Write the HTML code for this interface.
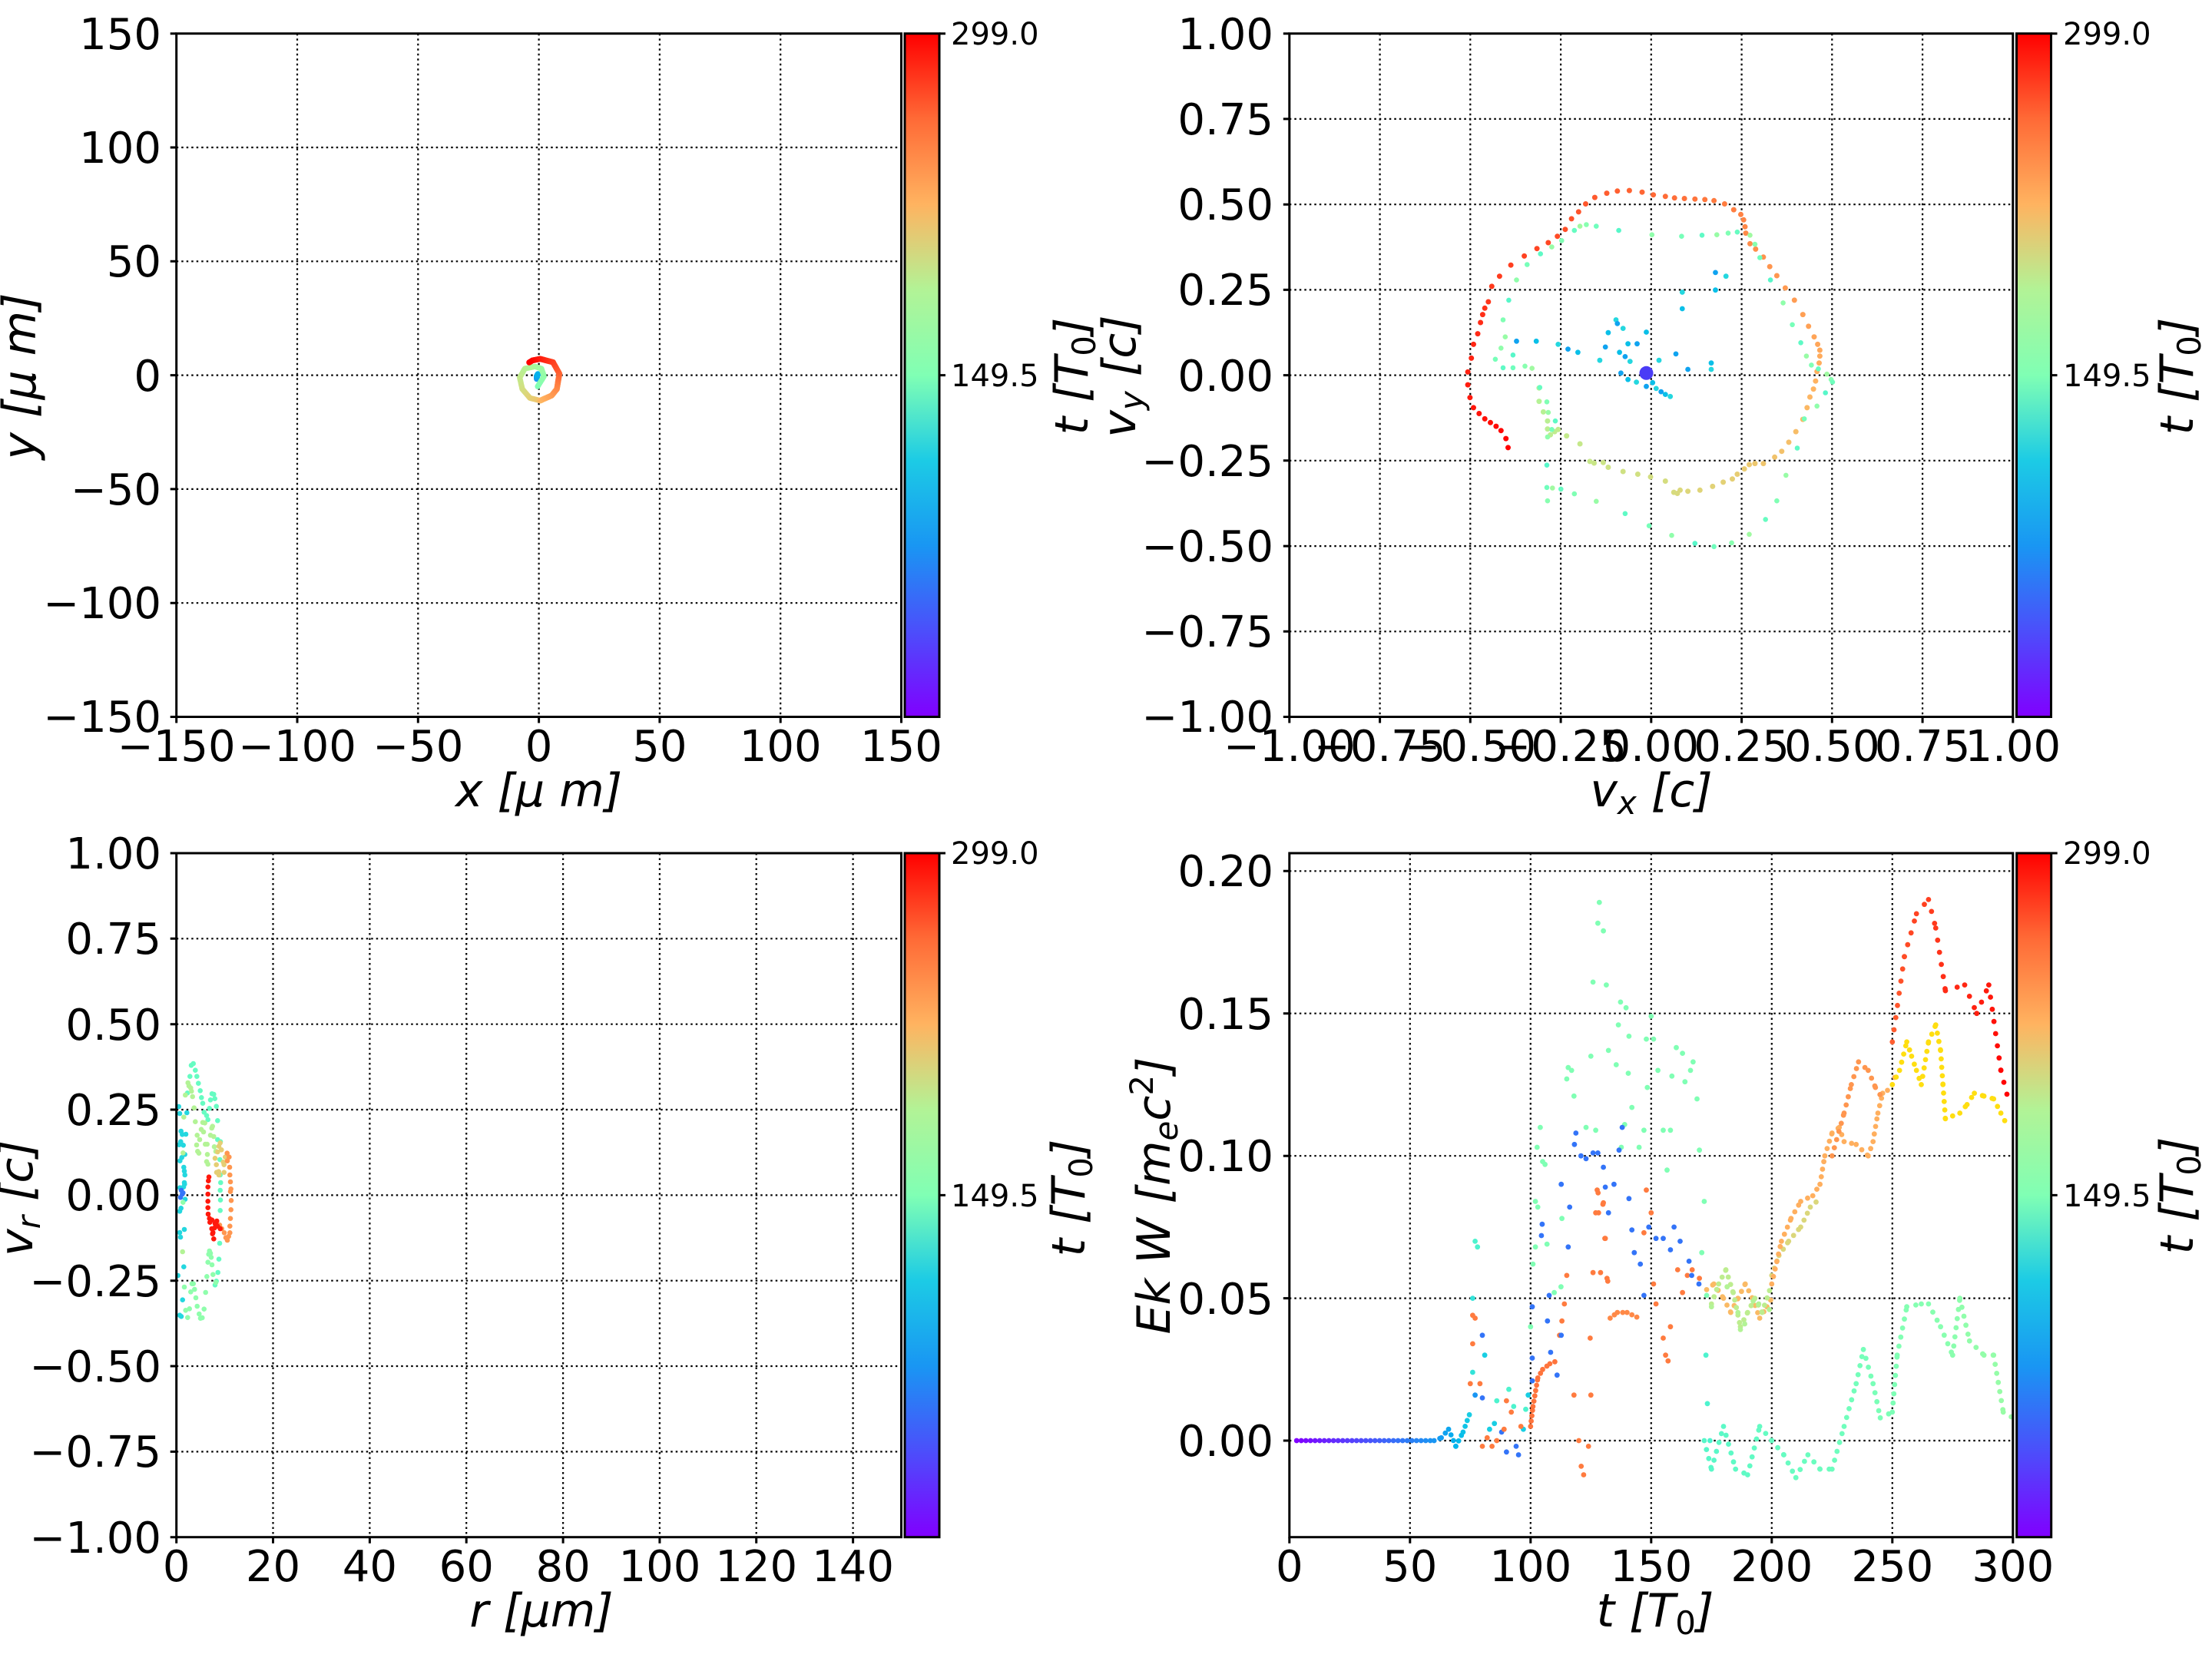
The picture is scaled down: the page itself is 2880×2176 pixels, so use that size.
<!DOCTYPE html>
<html><head><meta charset="utf-8">
<style>
html,body{margin:0;padding:0;background:#fff;}
svg{display:block;}
text{font-family:"DejaVu Sans","Liberation Sans",sans-serif;fill:#000;}
.tk{font-size:56px;}
.ct{font-size:40px;}
.al{font-size:60px;font-style:italic;}
.g{stroke:#000;stroke-width:2.2;stroke-dasharray:2.5 4;fill:none;}
.ax{stroke:#000;stroke-width:3;fill:none;}
.t{stroke:#000;stroke-width:3;}
</style></head>
<body>
<svg id="s" width="2880" height="2176" viewBox="0 0 2880 2176" xmlns="http://www.w3.org/2000/svg">
<defs>
<linearGradient id="rb" x1="0" y1="1" x2="0" y2="0">
<stop offset="0" stop-color="#8000ff"/><stop offset="0.125" stop-color="#4c4efb"/><stop offset="0.25" stop-color="#1996f3"/><stop offset="0.375" stop-color="#1ccbe5"/><stop offset="0.5" stop-color="#80ffb4"/><stop offset="0.625" stop-color="#b2f396"/><stop offset="0.75" stop-color="#ffb360"/><stop offset="0.875" stop-color="#ff6a36"/><stop offset="1" stop-color="#ff0000"/>
</linearGradient>
</defs>

<!-- ===== TL ===== -->
<g>
<path class="g" d="M387 43.7V933.5M544.3 43.7V933.5M701.6 43.7V933.5M858.9 43.7V933.5M1016.2 43.7V933.5M229.7 192H1173.5M229.7 340.3H1173.5M229.7 488.6H1173.5M229.7 636.9H1173.5M229.7 785.2H1173.5"/>
<g id="tl"></g>
<rect class="ax" x="229.7" y="43.7" width="943.8" height="889.8"/>
<path class="t" d="M229.7 933.5v8M387 933.5v8M544.3 933.5v8M701.6 933.5v8M858.9 933.5v8M1016.2 933.5v8M1173.5 933.5v8M229.7 43.7h-8M229.7 192h-8M229.7 340.3h-8M229.7 488.6h-8M229.7 636.9h-8M229.7 785.2h-8M229.7 933.5h-8"/>
<g class="tk" text-anchor="middle">
<text x="229.7" y="991">−150</text><text x="387" y="991">−100</text><text x="544.3" y="991">−50</text><text x="701.6" y="991">0</text><text x="858.9" y="991">50</text><text x="1016.2" y="991">100</text><text x="1173.5" y="991">150</text></g>
<g class="tk" text-anchor="end">
<text x="210" y="64">150</text><text x="210" y="212">100</text><text x="210" y="360">50</text><text x="210" y="509">0</text><text x="210" y="657">−50</text><text x="210" y="805">−100</text><text x="210" y="953">−150</text></g>
<text class="al" x="701.6" y="1050" text-anchor="middle">x  [μ m]</text>
<text class="al" transform="translate(46,490) rotate(-90)" text-anchor="middle">y  [μ m]</text>
<rect x="1178" y="43.7" width="45" height="889.8" fill="url(#rb)" stroke="#000" stroke-width="3"/>
<path class="t" d="M1223 43.7h8M1223 488.6h8"/>
<text class="ct" x="1238" y="58">299.0</text><text class="ct" x="1238" y="503">149.5</text>
<text class="al" transform="translate(1416,490) rotate(-90)" text-anchor="middle">t [T<tspan font-size="42" dy="10" font-style="normal">0</tspan><tspan dy="-10">]</tspan></text>
</g>

<!-- ===== TR ===== -->
<g>
<path class="g" d="M1796.6 43.7V933.5M1914.3 43.7V933.5M2032.1 43.7V933.5M2149.8 43.7V933.5M2267.6 43.7V933.5M2385.3 43.7V933.5M2503.1 43.7V933.5M1678.8 154.9H2620.8M1678.8 266.2H2620.8M1678.8 377.4H2620.8M1678.8 488.6H2620.8M1678.8 599.8H2620.8M1678.8 711.1H2620.8M1678.8 822.3H2620.8"/>
<g id="tr"></g>
<rect class="ax" x="1678.8" y="43.7" width="942" height="889.8"/>
<path class="t" d="M1678.8 933.5v8M1796.6 933.5v8M1914.3 933.5v8M2032.1 933.5v8M2149.8 933.5v8M2267.6 933.5v8M2385.3 933.5v8M2503.1 933.5v8M2620.8 933.5v8M1678.8 43.7h-8M1678.8 154.9h-8M1678.8 266.2h-8M1678.8 377.4h-8M1678.8 488.6h-8M1678.8 599.8h-8M1678.8 711.1h-8M1678.8 822.3h-8M1678.8 933.5h-8"/>
<g class="tk" text-anchor="middle">
<text x="1678.8" y="991">−1.00</text><text x="1796.6" y="991">−0.75</text><text x="1914.3" y="991">−0.50</text><text x="2032.1" y="991">−0.25</text><text x="2149.8" y="991">0.00</text><text x="2267.6" y="991">0.25</text><text x="2385.3" y="991">0.50</text><text x="2503.1" y="991">0.75</text><text x="2620.8" y="991">1.00</text></g>
<g class="tk" text-anchor="end">
<text x="1658" y="64">1.00</text><text x="1658" y="175">0.75</text><text x="1658" y="286">0.50</text><text x="1658" y="397">0.25</text><text x="1658" y="509">0.00</text><text x="1658" y="620">−0.25</text><text x="1658" y="731">−0.50</text><text x="1658" y="842">−0.75</text><text x="1658" y="953">−1.00</text></g>
<text class="al" x="2150" y="1050" text-anchor="middle">v<tspan font-size="42" dy="10">x</tspan><tspan dy="-10"> [c]</tspan></text>
<text class="al" transform="translate(1478,490) rotate(-90)" text-anchor="middle">v<tspan font-size="42" dy="10">y</tspan><tspan dy="-10"> [c]</tspan></text>
<rect x="2625.5" y="43.7" width="45" height="889.8" fill="url(#rb)" stroke="#000" stroke-width="3"/>
<path class="t" d="M2670.5 43.7h8M2670.5 488.6h8"/>
<text class="ct" x="2686" y="58">299.0</text><text class="ct" x="2686" y="503">149.5</text>
<text class="al" transform="translate(2855,490) rotate(-90)" text-anchor="middle">t [T<tspan font-size="42" dy="10" font-style="normal">0</tspan><tspan dy="-10">]</tspan></text>
</g>

<!-- ===== BL ===== -->
<g>
<path class="g" d="M355.5 1111V2001.7M481.4 1111V2001.7M607.2 1111V2001.7M733.1 1111V2001.7M858.9 1111V2001.7M984.7 1111V2001.7M1110.6 1111V2001.7M229.7 1222.3H1173.5M229.7 1333.7H1173.5M229.7 1445H1173.5M229.7 1556.4H1173.5M229.7 1667.7H1173.5M229.7 1779H1173.5M229.7 1890.4H1173.5"/>
<g id="bl"></g>
<rect class="ax" x="229.7" y="1111" width="943.8" height="890.7"/>
<path class="t" d="M229.7 2001.7v8M355.5 2001.7v8M481.4 2001.7v8M607.2 2001.7v8M733.1 2001.7v8M858.9 2001.7v8M984.7 2001.7v8M1110.6 2001.7v8M229.7 1111h-8M229.7 1222.3h-8M229.7 1333.7h-8M229.7 1445h-8M229.7 1556.4h-8M229.7 1667.7h-8M229.7 1779h-8M229.7 1890.4h-8M229.7 2001.7h-8"/>
<g class="tk" text-anchor="middle">
<text x="229.7" y="2059">0</text><text x="355.5" y="2059">20</text><text x="481.4" y="2059">40</text><text x="607.2" y="2059">60</text><text x="733.1" y="2059">80</text><text x="858.9" y="2059">100</text><text x="984.7" y="2059">120</text><text x="1110.6" y="2059">140</text></g>
<g class="tk" text-anchor="end">
<text x="210" y="1131">1.00</text><text x="210" y="1242">0.75</text><text x="210" y="1354">0.50</text><text x="210" y="1465">0.25</text><text x="210" y="1576">0.00</text><text x="210" y="1688">−0.25</text><text x="210" y="1799">−0.50</text><text x="210" y="1910">−0.75</text><text x="210" y="2022">−1.00</text></g>
<text class="al" x="705" y="2118" text-anchor="middle">r [μm]</text>
<text class="al" transform="translate(42,1560) rotate(-90)" text-anchor="middle">v<tspan font-size="42" dy="10">r</tspan><tspan dy="-10"> [c]</tspan></text>
<rect x="1178" y="1111" width="45" height="890.7" fill="url(#rb)" stroke="#000" stroke-width="3"/>
<path class="t" d="M1223 1111h8M1223 1556.4h8"/>
<text class="ct" x="1238" y="1125">299.0</text><text class="ct" x="1238" y="1571">149.5</text>
<text class="al" transform="translate(1412,1560) rotate(-90)" text-anchor="middle">t [T<tspan font-size="42" dy="10" font-style="normal">0</tspan><tspan dy="-10">]</tspan></text>
</g>

<!-- ===== BR ===== -->
<g>
<path class="g" d="M1835.8 1111V2001.7M1992.8 1111V2001.7M2149.8 1111V2001.7M2306.8 1111V2001.7M2463.8 1111V2001.7M1678.8 1876H2620.8M1678.8 1690.6H2620.8M1678.8 1505.2H2620.8M1678.8 1319.7H2620.8M1678.8 1134.3H2620.8"/>
<g id="br"></g>
<rect class="ax" x="1678.8" y="1111" width="942" height="890.7"/>
<path class="t" d="M1678.8 2001.7v8M1835.8 2001.7v8M1992.8 2001.7v8M2149.8 2001.7v8M2306.8 2001.7v8M2463.8 2001.7v8M2620.8 2001.7v8M1678.8 1876h-8M1678.8 1690.6h-8M1678.8 1505.2h-8M1678.8 1319.7h-8M1678.8 1134.3h-8"/>
<g class="tk" text-anchor="middle">
<text x="1678.8" y="2059">0</text><text x="1835.8" y="2059">50</text><text x="1992.8" y="2059">100</text><text x="2149.8" y="2059">150</text><text x="2306.8" y="2059">200</text><text x="2463.8" y="2059">250</text><text x="2620.8" y="2059">300</text></g>
<g class="tk" text-anchor="end">
<text x="1658" y="1896">0.00</text><text x="1658" y="1711">0.05</text><text x="1658" y="1525">0.10</text><text x="1658" y="1340">0.15</text><text x="1658" y="1154">0.20</text></g>
<text class="al" x="2155" y="2118" text-anchor="middle">t [T<tspan font-size="42" dy="10" font-style="normal">0</tspan><tspan dy="-10">]</tspan></text>
<text class="al" transform="translate(1523,1557) rotate(-90)" text-anchor="middle">Ek W [m<tspan font-size="42" dy="10">e</tspan><tspan dy="-10">c</tspan><tspan font-size="42" dy="-22" font-style="normal">2</tspan><tspan dy="22">]</tspan></text>
<rect x="2625.7" y="1111" width="45" height="890.7" fill="url(#rb)" stroke="#000" stroke-width="3"/>
<path class="t" d="M2670.7 1111h8M2670.7 1556.4h8"/>
<text class="ct" x="2686" y="1125">299.0</text><text class="ct" x="2686" y="1571">149.5</text>
<text class="al" transform="translate(2855,1557) rotate(-90)" text-anchor="middle">t [T<tspan font-size="42" dy="10" font-style="normal">0</tspan><tspan dy="-10">]</tspan></text>
</g>
</svg>
<script>
(function(){
var NS="http://www.w3.org/2000/svg";
function rb(x){x=Math.max(0,Math.min(1,x));var r=Math.min(1,Math.abs(2*x-0.5)),g=Math.sin(Math.PI*x),b=Math.cos(Math.PI*x/2);
return "rgb("+Math.round(r*255)+","+Math.round(g*255)+","+Math.round(Math.max(0,b)*255)+")";}
function dot(gid,x,y,c,r){var e=document.createElementNS(NS,"circle");e.setAttribute("cx",x.toFixed(1));e.setAttribute("cy",y.toFixed(1));e.setAttribute("r",r||3.4);e.setAttribute("fill",typeof c=="string"?c:rb(c));document.getElementById(gid).appendChild(e);}
function trail(gid,pts,c0,c1,step,r){
 var L=0,seg=[];for(var i=1;i<pts.length;i++){var d=Math.hypot(pts[i][0]-pts[i-1][0],pts[i][1]-pts[i-1][1]);seg.push(d);L+=d;}
 var acc=0;for(var i=1;i<pts.length;i++){var d=seg[i-1];for(var s=0;s<d;s+=step){var f=s/d;var x=pts[i-1][0]+f*(pts[i][0]-pts[i-1][0]),y=pts[i-1][1]+f*(pts[i][1]-pts[i-1][1]);var c=(typeof c0=="string")?c0:c0+(c1-c0)*(acc+s)/L;dot(gid,x,y,c,r);}acc+=d;}
}
function z7(p){return [640+p[0]/3,440+p[1]/3];}
trail("tl",[[177,160],[177,150],[182,140]].map(z7),0.2,0.25,1,4);
trail("tl",[[180,190],[205,150],[195,120],[170,112],[130,120],[110,155],[120,200],[150,235],[190,245]].map(z7),0.5,0.72,1,3.6);
trail("tl",[[190,245],[235,225],[255,200],[265,140],[240,95],[190,82],[160,88],[145,97]].map(z7),0.74,1.0,1,3.8);
function z5(x,y){return [1440+x/1.0889,43.7+(y-62)/1.443];}
var ring=[[570,840],[567,823],[560,808],[553,800],[545,793],[537,786],[529,776],[521,765],[516,746],[513,722],[513,698],[518,672],[521,646],[527,626],[531,605],[534,590],[537,578],[542,566],[547,537],[558,518],[574,497],[593,480],[611,466],[627,455],[640,443],[651,430],[660,410],[670,397],[680,382],[693,370],[710,362],[725,358],[742,357],[760,360],[776,365],[793,368],[806,371],[820,372],[835,373],[849,374],[862,376],[877,382],[890,393],[900,402],[904,412],[906,425],[907,437],[913,457],[921,467],[932,482],[941,500],[951,517],[963,540],[976,563],[988,590],[996,612],[1004,632],[1009,646],[1012,657],[1012,668],[1011,681],[1008,697],[1006,715],[1003,730],[998,745],[994,765],[988,787],[978,810],[968,830],[958,847],[948,858],[932,870],[920,870],[912,872],[905,880],[895,890],[888,899],[875,905],[860,913],[842,920],[825,922],[814,920],[810,926],[805,924],[793,903],[772,895],[754,890],[733,885],[712,877],[705,868],[692,869],[686,866],[672,833],[653,818],[641,806],[636,810],[630,816],[626,805],[626,790],[620,773],[614,753],[614,728]];
ring.forEach(function(p,i){var q=z5(p[0],p[1]);dot("tr",q[0],q[1],1.0-0.4*i/(ring.length-1),3.5);});
[[571,563],[582,525],[597,496],[616,476],[632,463],[646,451],[664,432],[672,424],[681,421],[695,424],[727,432],[774,440],[816,443],[845,441],[866,440],[882,437],[895,435],[913,441],[920,458],[927,483],[942,525],[960,568],[973,609],[985,643],[993,668],[1000,685],[1010,692],[1022,702],[1028,712],[1030,717],[1020,737],[1008,762],[990,786],[980,841],[964,892],[951,940],[935,975],[912,1003],[887,1019],[862,1026],[835,1020],[802,1005],[770,987],[736,964],[695,941],[664,927],[645,918],[633,916],[626,940],[625,915],[625,873],[626,820],[632,806],[637,790],[627,774],[625,754],[615,727],[604,691],[594,687],[577,690],[577,666],[560,653],[552,674],[563,690],[566,632],[563,600]].forEach(function(p,i){var q=z5(p[0],p[1]);dot("tr",q[0],q[1],0.42+0.16*((i*7)%10)/10,3.3);});
[[582,640],[610,640],[641,646],[655,655],[669,661],[700,676],[708,651],[712,624],[723,600],[725,607],[728,661],[733,616],[736,669],[740,645],[743,678],[753,645],[766,623],[784,676],[808,664],[817,579],[817,548],[825,693],[858,681],[858,693],[864,511],[864,544],[879,518],[730,700],[740,712],[752,717],[766,725],[775,718],[780,729],[787,735],[793,740],[800,744]].forEach(function(p,i){var q=z5(p[0],p[1]);dot("tr",q[0],q[1],0.22+0.1*(i%3)/2,3.4);});
var c=z5(766,700);dot("tr",c[0],c[1],"#4a3cf6",9);
function z6(x,y){return [150+x/3,1300+y/3];}
function bl(list,col){list.forEach(function(p,i){var q=z6(p[0],p[1]);dot("bl",q[0],q[1],col,3.3);});}
bl([[305,255],[297,262],[313,281],[292,305],[319,305],[325,332],[332,361],[337,388],[342,410],[347,445],[357,458],[362,474],[368,430],[378,373],[385,375],[389,392],[395,422],[372,397],[400,478],[400,552],[411,560],[409,630],[410,690],[412,720],[410,750],[411,788],[410,829],[408,957],[405,1019],[401,1071],[395,1105],[390,1120],[282,370]],0.45);
bl([[248,423],[252,450],[280,447],[257,519],[262,532],[276,531],[250,572],[266,574],[256,560],[272,610],[260,622],[253,635],[268,660],[270,675],[272,690],[270,720],[271,726],[267,737],[253,740],[273,785],[257,820],[252,832],[252,915],[270,903],[255,933],[268,1049],[245,1083],[263,1178],[252,1238],[258,1243]],0.32);
bl([[258,750],[262,765],[255,778],[265,760]],0.15);
bl([[284,330],[288,342],[295,350],[298,363],[302,384],[274,378],[308,428],[313,482],[268,464],[265,604],[320,535],[330,552],[318,573],[322,598],[327,605],[336,512],[342,485],[350,487],[345,522],[352,570],[359,570],[360,610],[357,638],[362,648],[372,535],[385,540],[377,507],[380,500],[387,580],[393,598],[263,990]],0.6);
bl([[265,797],[368,987],[372,996],[365,1000],[375,1012],[362,1031],[378,1041],[358,1087],[382,1079],[393,1110],[270,1128],[300,1115],[305,1115],[295,1147],[310,1137],[315,1170],[353,1149],[275,1219],[290,1213],[320,1203],[328,1233],[347,1214],[333,1250],[340,1248],[283,1247]],0.53);
bl([[410,565],[405,578],[400,600],[415,592],[396,680],[404,677],[405,690],[425,650],[425,680],[430,620],[422,640],[390,625],[395,650]],0.7);
bl([[437,605],[445,620],[438,635],[447,660],[448,690],[450,717],[452,745],[450,755],[453,790],[452,826],[450,860],[448,890],[448,916],[443,930],[438,945],[432,935],[426,916],[416,900],[408,886]],0.8);
bl([[366,698],[364,713],[362,737],[362,765],[362,793],[362,818],[363,843],[368,860],[370,875],[378,866],[390,880],[397,870],[388,897],[377,900],[380,920],[385,940],[382,915],[400,890],[395,885],[410,900]],0.97);
function bx(t,E){return [1678.8+t*3.14,1876-E*3708.5];}
function brl(list,col){list.forEach(function(p){var q=bx(p[0],p[1]);dot("br",q[0],q[1],p.length>2?p[2]:col,3.4);});}
function brt(list,c0,c1,step){trail("br",list.map(function(p){return bx(p[0],p[1]);}),c0,c1,step,3.4);}
brt([[3,0],[60,0]],0.0,0.2,6);
brt([[60,0],[63,0.001],[66,0.004],[69,-0.002],[72,0.003],[75,0.01]],0.2,0.3,8);
brl([[77,0.07,0.4],[78,0.068,0.4],[76,0.05,0.35],[76,0.024,0.35],[77,0.016,0.2],[80,0.015,0.15],[80,0.037,0.15],[81,0.03,0.3],[83,0.004,0.3],[85,0.006,0.3],[86,0.014,0.4],[88,0.003,0.15],[90,-0.004,0.15],[91,0.018,0.4],[93,0.012,0.4],[94,-0.002,0.15],[95,-0.005,0.15],[97,0.004,0.3],[98,0.011,0.4],[99,0.016,0.3]]);
brl([[76,0.044],[77,0.043],[75,0.02],[76,0.034],[79,0.02],[80,-0.002],[82,0.001],[84,-0.002],[86,0.0],[89,0.004],[90,0.014],[92,0.01],[96,0.005],[112,0.037],[113,0.042],[114,0.048],[115,0.058],[118,0.016],[120,0.0],[121,-0.009],[122,-0.012],[124,-0.002],[125,0.016],[127,0.08],[128,0.087],[130,0.083],[131,0.071],[132,0.056],[129,0.059],[147,0.073],[148,0.088],[150,0.08],[151,0.055],[152,0.048],[155,0.036],[156,0.03],[157,0.028],[158,0.04],[161,0.06],[163,0.052],[165,0.058],[167,0.06],[170,0.057],[127.6,0.088],[128.2,0.080],[130.8,0.071],[131.7,0.057],[130.2,0.0835],[125.9,0.059],[124.7,0.036]],0.84);
brt([[100,0.005],[101,0.012],[103,0.022],[105,0.025],[108,0.027],[111,0.028]],0.85,0.85,7);
brt([[133,0.043],[136,0.045],[140,0.045],[145,0.043]],0.82,0.82,7);
brt([[173,0.053],[176,0.055],[180,0.05],[183,0.045],[186,0.05],[189,0.055],[192,0.05],[195,0.043],[198,0.047],[200,0.05]],0.74,0.74,10);
brt([[175,0.048],[178,0.055],[181,0.06],[184,0.052],[187,0.04],[190,0.045],[193,0.05],[196,0.045],[200,0.055]],0.62,0.62,10);
brt([[200,0.058],[203,0.065],[207,0.07],[212,0.075],[216,0.082],[220,0.085]],0.68,0.68,10);
brt([[200,0.055],[204,0.07],[208,0.078],[212,0.084],[217,0.086],[220,0.09],[222,0.1],[225,0.108],[228,0.11],[230,0.105],[235,0.104],[240,0.1],[242,0.105],[244,0.115],[246,0.122],[248,0.123],[250,0.125],[252,0.13]],0.76,0.76,10);
brt([[225,0.1],[230,0.115],[233,0.125],[236,0.133],[240,0.13],[243,0.124],[246,0.12]],0.8,0.8,11);
brt([[250,0.125],[253,0.13],[256,0.14],[258,0.135],[260,0.13],[262,0.125],[265,0.14],[268,0.146],[270,0.137],[271,0.125],[272,0.113],[275,0.114],[278,0.115],[281,0.118],[284,0.122],[288,0.121],[292,0.12],[295,0.115],[298,0.11]],"#ffde10","#ffde10",11);
brt([[250,0.14],[255,0.17],[260,0.185],[265,0.19],[268,0.18],[272,0.158],[280,0.16],[285,0.15],[290,0.16],[295,0.13],[298,0.12]],0.88,1.0,16);
brt([[172,0.0],[175,-0.01],[180,0.005],[185,-0.01],[190,-0.012],[195,0.005],[200,0],[205,-0.005],[210,-0.013],[215,-0.005],[220,-0.01],[225,-0.01],[230,0.005],[235,0.02],[238,0.032],[242,0.02],[245,0.008],[250,0.01],[252,0.03],[256,0.047],[262,0.048],[265,0.048],[270,0.04],[275,0.03],[278,0.05],[282,0.035],[288,0.03],[292,0.03],[296,0.01],[300,0.008]],0.42,0.55,12);
brl([[127.9,0.1817],[130.2,0.179],[128.5,0.189],[125.9,0.161],[131.4,0.16],[125,0.135],[115.6,0.131],[117,0.130],[115,0.127],[118,0.121],[104,0.110],[105,0.098],[102.7,0.103],[102,0.084],[103,0.082],[101,0.062],[100,0.04],[102,0.068],[106.8,0.069],[109.8,0.052],[112.6,0.054],[113,0.078],[106,0.097],[123,0.110],[127,0.109],[139,0.111],[137.6,0.103],[145,0.103],[142,0.117],[140.5,0.129],[135.5,0.132],[132.3,0.137],[136.4,0.146],[137.3,0.154],[139.6,0.152],[140.8,0.142],[150,0.149],[151,0.141],[148,0.141],[148.4,0.124],[147,0.109],[152.8,0.130],[155,0.109],[158.6,0.128],[160.4,0.138],[163,0.136],[164,0.126],[166.3,0.130],[167.4,0.133],[169,0.120],[170,0.102],[172,0.084],[156.6,0.095],[158,0.109],[171,0.066],[173,0.051]],0.5);
brl([[175,0.047],[181.5,0.054],[186,0.045],[187,0.039],[188.8,0.041],[192.3,0.049],[194.6,0.048],[199,0.046]],0.6);
brl([[118.2,0.104],[118.8,0.108],[120.9,0.100],[123,0.099],[125.9,0.101],[127.9,0.101],[130.2,0.096],[131,0.089],[132.3,0.080],[134.6,0.090],[136.7,0.102],[138,0.110],[140.8,0.085],[142,0.074],[143,0.066],[145.5,0.062],[147,0.051],[149,0.075],[152,0.071],[155,0.071],[158,0.067],[159.5,0.075],[162,0.070],[165.7,0.063],[166.8,0.058],[169.8,0.055],[104.8,0.076],[104.5,0.072],[107.7,0.051],[107,0.042],[108.3,0.031],[111,0.023],[112.7,0.037],[115.6,0.068],[116.2,0.082],[112.7,0.090],[100.7,0.021],[100.7,0.047],[100.7,0.029]],0.15);
brl([[172.7,0.030,0.4],[173.3,0.013,0.4],[174.4,0.0,0.4]]);
})();
</script>
</body></html>
